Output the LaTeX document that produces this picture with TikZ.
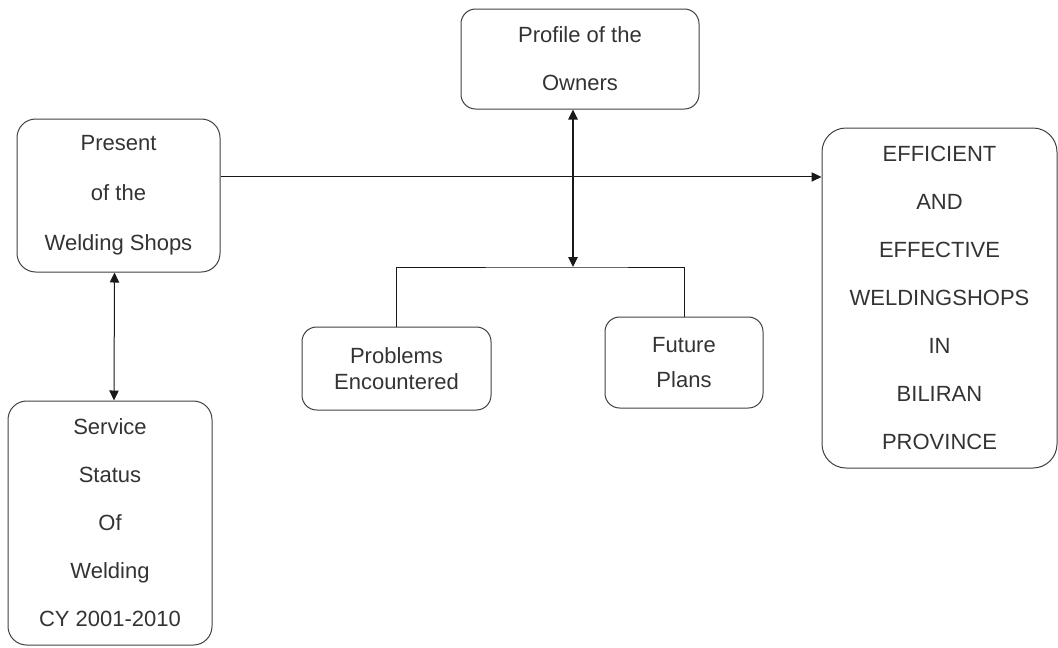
\documentclass[tikz,border=0pt]{standalone}
\usepackage{fontspec}
\setmainfont{Liberation Sans}
\usetikzlibrary{arrows.meta}

\begin{document}
\begin{tikzpicture}[x=0.75pt, y=-0.75pt, line width=0.75pt, >={Triangle[length=7.5pt,width=7pt]},
	box/.style={draw=black!75, rectangle, rounded corners=14pt, inner sep=0pt, align=center,
	  text=black!80, font=\fontsize{16.5}{36}\selectfont},
	link/.style={draw=black!90}]
	\useasboundingbox (0,0) rectangle (1058,647);
	% boxes
	\node[box, minimum width=178.5pt, minimum height=75pt, rounded corners=11pt] (profile) at (580,59) {Profile of the\\Owners};
	\node[box, minimum width=152.25pt, minimum height=114.75pt, font=\fontsize{16.5}{37.5}\selectfont] (present) at (118.5,195.5) {Present\\of the\\Welding Shops};
	\node[box, minimum width=153pt, minimum height=183pt] (service) at (110,523) {Service\\Status\\Of\\Welding\\CY 2001-2010};
	\node[box, minimum width=141.75pt, minimum height=62.25pt, rounded corners=11pt, font=\fontsize{16.5}{20}\selectfont] (problems) at (396.5,368.5) {Problems\\Encountered};
	\node[box, minimum width=118.5pt, minimum height=68.25pt, rounded corners=11pt, font=\fontsize{16.5}{26}\selectfont] (future) at (684,362.5) {Future\\Plans};
	\node[box, minimum width=176.25pt, minimum height=255pt, rounded corners=18pt] (efficient) at (939.5,298) {EFFICIENT\\AND\\EFFECTIVE\\WELDINGSHOPS\\IN\\BILIRAN\\PROVINCE};
	\coordinate (join) at (573,267);
	% connectors
	\draw[link, ->] ([yshift=13.9pt]present.east) coordinate (h) -- (h -| efficient.west);
	\draw[link, <->, line width=1.1pt] (profile.south -| join) -- (join);
	\draw[link] (problems.north) |- (join) -| (future.north);
	\draw[link, <->] ([xshift=-3pt]present.south) -- ([xshift=3pt]service.north);
\end{tikzpicture}
\end{document}
